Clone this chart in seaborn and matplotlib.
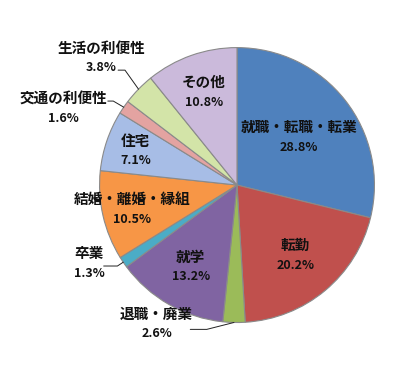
import numpy as np
import seaborn as sns
import matplotlib.pyplot as plt

# data
labels = ["就職・転職・転業", "転勤", "退職・廃業", "就学", "卒業",
          "結婚・離婚・縁組", "住宅", "交通の利便性", "生活の利便性", "その他"]
shares = [28.8, 20.2, 2.6, 13.2, 1.3, 10.5, 7.1, 1.6, 3.8, 10.8]
colors = ["#4F81BD", "#C0504D", "#9BBB59", "#8064A2", "#4BACC6",
          "#F79646", "#A7BDE6", "#E3A3A1", "#D3E4A8", "#CBBADB"]

# label placement (style): radius for inside labels, None = outside label
inside_r = [0.57, 0.66, None, 0.68, None, 0.78, 0.78, None, None, 0.72]
# outside label anchors (data units, pie radius = 1) and leader elbows
outside_pos = {2: (-0.585, -1.005), 4: (-1.075, -0.565),
               7: (-1.26, 0.56), 8: (-0.985, 0.93)}
leader_start = {2: [(-0.34, -1.05), (-0.22, -1.05)],
                4: [(-0.97, -0.589), (-0.87, -0.589)],
                7: [(-0.94, 0.611), (-0.90, 0.611)],
                8: [(-0.865, 0.836), (-0.815, 0.836)]}

sns.set_theme(style="white")
plt.rcParams["font.family"] = ["Noto Sans CJK JP", "DejaVu Sans"]

fig = plt.figure(figsize=(4.18, 3.69), dpi=100)
ax = fig.add_axes([0.238, 0.126, 0.658, 0.745])

wedges, _ = ax.pie(shares, colors=colors, startangle=90, counterclock=False,
                   radius=1.0,
                   wedgeprops=dict(edgecolor="#8a8a8a", linewidth=0.8))
ax.set_xlim(-1, 1)
ax.set_ylim(-1, 1)
ax.set_aspect("equal")
ax.axis("off")

ink = "#111111"
name_fs, pct_fs = 10.5, 9
for i, w in enumerate(wedges):
    mid = np.deg2rad((w.theta1 + w.theta2) / 2)
    pct = f"{shares[i]:.1f}%"
    if inside_r[i] is not None:
        r = inside_r[i]
        x, y = r * np.cos(mid), r * np.sin(mid)
    else:
        x, y = outside_pos[i]
        pts = leader_start[i] + [(np.cos(mid), np.sin(mid))]
        xs, ys = zip(*pts)
        ax.plot(xs, ys, color="#222222", lw=0.7, clip_on=False)
    ax.text(x, y + 0.07, labels[i], ha="center", va="center",
            fontsize=name_fs, fontweight="bold", color=ink, clip_on=False)
    ax.text(x, y - 0.075, pct, ha="center", va="center",
            fontsize=pct_fs, fontweight="bold", color=ink, clip_on=False)

fig.savefig("out.png", dpi=100, facecolor="white")
